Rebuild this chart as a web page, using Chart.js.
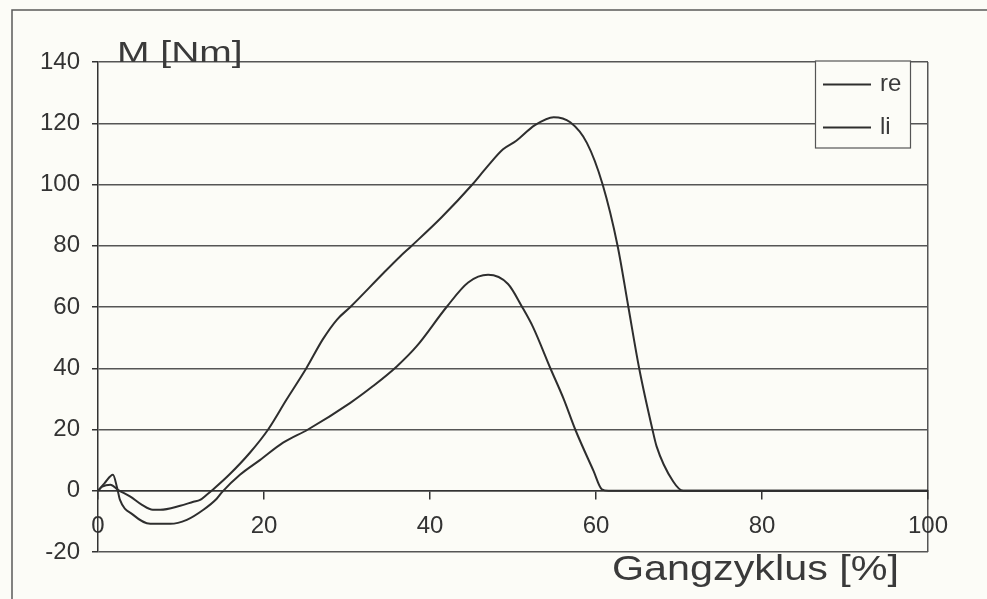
<!DOCTYPE html>
<html><head><meta charset="utf-8">
<script src="https://cdn.jsdelivr.net/npm/chart.js@4.4.1/dist/chart.umd.min.js"></script>
<style>html,body{margin:0;padding:0;background:#fcfcf7;overflow:hidden}</style>
</head><body>
<canvas id="c" width="987" height="599"></canvas>
<script>
// ---- data ----
const seriesNames = ['re', 'li'];
const reX = [0, 0.5, 1.5, 2.4, 3.9, 5.3, 6.6, 7.5, 9.9, 11.5, 12.3, 13.1, 13.9, 15.8, 18.3, 20.5, 22.7, 25.1, 27.1, 28.8, 30.4, 34.4, 36.4, 37.8, 41.4, 45.1, 46.8, 48.8, 50.4, 52.6, 54.9, 56.9, 58.9, 60.8, 62.6, 63.9, 65.2, 66.8, 67.3, 69.3, 70.5, 100];
const reY = [0, 1.3, 2, 0.3, -1.9, -4.6, -6.2, -6.2, -4.9, -3.6, -3.0, -1.3, 0.5, 5.2, 12.4, 20, 29.7, 40, 49.5, 55.9, 60, 71.1, 76.5, 80, 89.3, 100, 105.5, 111.5, 114.3, 119.3, 122, 120.3, 113.6, 100, 80, 60, 40, 20, 14.5, 3, 0, 0];
const liX = [0, 0.8, 1.8, 2.3, 2.65, 4.2, 6.3, 8.7, 10.7, 12.7, 14.3, 15.0, 17.1, 19.5, 22.3, 25.3, 30.4, 33.1, 36, 38.4, 42, 44.6, 47, 49.4, 51.1, 52.4, 54.5, 56.1, 57.5, 59.7, 60.7, 61.5, 100];
const liY = [0, 2.5, 5.2, 1, -3, -7.8, -10.8, -10.8, -9.5, -6.2, -2.6, -0.3, 5.2, 10, 15.7, 20, 28.7, 34.1, 40.6, 47.2, 60, 68, 70.5, 67.5, 60, 53.5, 40, 30, 20, 6.5, 0.5, 0, 0];
const xTickValues = [0, 20, 40, 60, 80, 100];
const yTickValues = [-20, 0, 20, 40, 60, 80, 100, 120, 140];
const yTitle = 'M [Nm]';
const xTitle = 'Gangzyklus [%]';

const FONT = '"Liberation Sans", Arial, Helvetica, sans-serif';
const INK = '#2e2e2e';
const BG = '#fcfcf7';

const toPts = (xs, ys) => xs.map((x, i) => ({x: x, y: ys[i]}));

function stretchedText(ctx, text, x, y, size, sx) {
  ctx.save();
  ctx.translate(x, y);
  ctx.scale(sx, 1);
  ctx.font = size + 'px ' + FONT;
  ctx.textAlign = 'left';
  ctx.textBaseline = 'alphabetic';
  ctx.fillText(text, 0, 0);
  ctx.restore();
}

const decor = {
  id: 'decor',
  beforeDraw(chart) {
    const {ctx, width, height} = chart;
    ctx.save();
    ctx.fillStyle = BG;
    ctx.fillRect(0, 0, width, height);
    ctx.strokeStyle = '#5a5a5a';
    ctx.lineWidth = 1.5;
    ctx.beginPath();
    ctx.moveTo(12, height);
    ctx.lineTo(12, 10);
    ctx.lineTo(width, 10);
    ctx.stroke();
    ctx.restore();
  },
  afterDraw(chart) {
    const {ctx, chartArea: a} = chart;
    ctx.save();
    ctx.fillStyle = '#3a3a3a';
    stretchedText(ctx, yTitle, a.left + 19, a.top - 0.5, 30, 1.3);
    stretchedText(ctx, xTitle, 612, 580, 35, 1.18);

    // legend box
    const bx = a.right - 113, by = a.top - 1.5, bw = 95, bh = 87;
    ctx.fillStyle = BG;
    ctx.fillRect(bx, by, bw, bh);
    ctx.strokeStyle = '#555';
    ctx.lineWidth = 1.2;
    ctx.strokeRect(bx + 0.5, by + 0.5, bw, bh);
    chart.data.datasets.forEach((ds, i) => {
      const yy = by + 24 + i * 43;
      ctx.strokeStyle = ds.borderColor;
      ctx.lineWidth = 2;
      ctx.beginPath();
      ctx.moveTo(bx + 8, yy);
      ctx.lineTo(bx + 56, yy);
      ctx.stroke();
      ctx.fillStyle = '#3a3a3a';
      ctx.font = '24px ' + FONT;
      ctx.textAlign = 'left';
      ctx.textBaseline = 'middle';
      ctx.fillText(ds.label, bx + 65, yy);
    });
    ctx.restore();
  }
};

new Chart(document.getElementById('c'), {
  type: 'line',
  data: {
    datasets: [
      {label: seriesNames[0], data: toPts(reX, reY), borderColor: INK, borderWidth: 2, pointRadius: 0, cubicInterpolationMode: 'monotone', fill: false},
      {label: seriesNames[1], data: toPts(liX, liY), borderColor: INK, borderWidth: 2, pointRadius: 0, cubicInterpolationMode: 'monotone', fill: false}
    ]
  },
  options: {
    responsive: false,
    animation: false,
    devicePixelRatio: 1,
    layout: {padding: {left: 0, top: 62, right: 59, bottom: 47}},
    plugins: {legend: {display: false}, tooltip: {enabled: false}, title: {display: false}},
    scales: {
      x: {
        type: 'linear',
        min: 0, max: 100,
        position: {y: 0},
        afterBuildTicks: s => { s.ticks = xTickValues.map(v => ({value: v})); },
        ticks: {color: '#333', font: {size: 24, family: FONT}, padding: 13, maxRotation: 0, autoSkip: false},
        grid: {
          drawOnChartArea: true,
          color: c => (c.tick && c.tick.value === 100) ? '#555' : 'rgba(0,0,0,0)',
          lineWidth: 1.5,
          tickLength: 8,
          tickColor: '#333',
          tickWidth: 1.5
        },
        border: {display: true, color: '#333', width: 1.5}
      },
      y: {
        type: 'linear',
        min: -20, max: 140,
        afterBuildTicks: s => { s.ticks = yTickValues.map(v => ({value: v})); },
        afterFit: s => { s.width = 98; },
        ticks: {color: '#333', font: {size: 24, family: FONT}, padding: 12},
        grid: {color: '#555', lineWidth: 1.5, tickLength: 6, tickColor: '#333', tickWidth: 1.5},
        border: {display: true, color: '#333', width: 1.5}
      }
    }
  },
  plugins: [decor]
});
</script>
</body></html>
